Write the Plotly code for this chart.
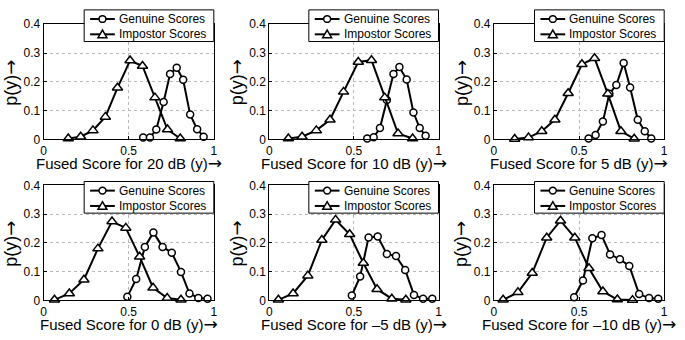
import plotly.graph_objects as go

snr_labels = ["20 dB", "10 dB", "5 dB", "0 dB", "–5 dB", "–10 dB"]
series_names = ["Genuine Scores", "Impostor Scores"]

imp_x_20 = [0.145, 0.218, 0.290, 0.363, 0.434, 0.508, 0.581, 0.654, 0.728, 0.803]
imp_y_20 = [0.003, 0.009, 0.031, 0.078, 0.179, 0.274, 0.255, 0.145, 0.034, 0.003]
gen_x_20 = [0.585, 0.625, 0.662, 0.705, 0.743, 0.782, 0.820, 0.861, 0.902, 0.940]
gen_y_20 = [0.006, 0.006, 0.034, 0.130, 0.227, 0.249, 0.207, 0.086, 0.035, 0.009]

imp_x_10 = [0.113, 0.194, 0.278, 0.359, 0.439, 0.526, 0.604, 0.682, 0.761, 0.847]
imp_y_10 = [0.003, 0.009, 0.031, 0.068, 0.165, 0.269, 0.275, 0.145, 0.020, 0.003]
gen_x_10 = [0.579, 0.617, 0.654, 0.695, 0.734, 0.769, 0.812, 0.852, 0.889, 0.924]
gen_y_10 = [0.003, 0.007, 0.039, 0.137, 0.227, 0.251, 0.208, 0.093, 0.039, 0.012]

imp_x_5 = [0.122, 0.203, 0.281, 0.358, 0.436, 0.517, 0.591, 0.669, 0.746, 0.824]
imp_y_5 = [0.001, 0.006, 0.028, 0.068, 0.160, 0.261, 0.282, 0.158, 0.028, 0.002]
gen_x_5 = [0.556, 0.597, 0.640, 0.678, 0.719, 0.762, 0.800, 0.845, 0.886, 0.924]
gen_y_5 = [0.003, 0.015, 0.062, 0.158, 0.189, 0.265, 0.180, 0.068, 0.028, 0.003]

imp_x_0 = [0.064, 0.151, 0.237, 0.319, 0.402, 0.483, 0.564, 0.643, 0.726, 0.807]
imp_y_0 = [0.002, 0.024, 0.072, 0.180, 0.274, 0.252, 0.152, 0.044, 0.008, 0.002]
gen_x_0 = [0.492, 0.544, 0.595, 0.645, 0.699, 0.753, 0.807, 0.857, 0.909, 0.963]
gen_y_0 = [0.013, 0.074, 0.186, 0.236, 0.186, 0.166, 0.099, 0.024, 0.008, 0.006]

imp_x_m5 = [0.054, 0.141, 0.228, 0.311, 0.392, 0.475, 0.556, 0.637, 0.724, 0.807]
imp_y_m5 = [0.002, 0.024, 0.086, 0.210, 0.280, 0.230, 0.130, 0.039, 0.006, 0.002]
gen_x_m5 = [0.488, 0.537, 0.587, 0.641, 0.695, 0.749, 0.803, 0.855, 0.909, 0.963]
gen_y_m5 = [0.017, 0.083, 0.219, 0.222, 0.161, 0.154, 0.106, 0.019, 0.006, 0.006]

imp_x_m10 = [0.054, 0.141, 0.225, 0.310, 0.391, 0.475, 0.558, 0.640, 0.725, 0.814]
imp_y_m10 = [0.002, 0.028, 0.095, 0.218, 0.277, 0.218, 0.112, 0.031, 0.003, 0.001]
gen_x_m10 = [0.471, 0.523, 0.578, 0.632, 0.682, 0.740, 0.795, 0.853, 0.911, 0.965]
gen_y_m10 = [0.011, 0.069, 0.216, 0.227, 0.160, 0.143, 0.120, 0.022, 0.008, 0.006]

x_ticks = [0, 0.5, 1]
x_tick_text = ["0", "0.5", "1"]
y_ticks = [0, 0.1, 0.2, 0.3, 0.4]
y_tick_text = ["0", "0.1", "0.2", "0.3", "0.4"]

panels = [
    (gen_x_20, gen_y_20, imp_x_20, imp_y_20),
    (gen_x_10, gen_y_10, imp_x_10, imp_y_10),
    (gen_x_5, gen_y_5, imp_x_5, imp_y_5),
    (gen_x_0, gen_y_0, imp_x_0, imp_y_0),
    (gen_x_m5, gen_y_m5, imp_x_m5, imp_y_m5),
    (gen_x_m10, gen_y_m10, imp_x_m10, imp_y_m10),
]

W, H = 685, 340
col_px = [(41, 213), (269, 440), (496, 668)]
row_px = [(18, 138), (186, 306)]
leg_top_px = [3, 182]
FONT = "Liberation Sans, Arial, Helvetica, sans-serif"
ARROW = '<span style="font-family:DejaVu Sans;font-size:17px">→</span>'
ARROW_Y = '<span style="font-family:DejaVu Sans;font-size:18px">→</span>'


def px(x):
    return x / W


def py(y):
    return 1 - y / H


fig = go.Figure()
layout = dict(
    width=W, height=H,
    margin=dict(l=0, r=0, t=0, b=0),
    paper_bgcolor="white", plot_bgcolor="white",
    font=dict(family=FONT, color="black"),
    showlegend=False,
)
annotations = []
shapes = []

for i, (gx, gy, ix, iy) in enumerate(panels):
    r, c = divmod(i, 3)
    n = "" if i == 0 else str(i + 1)
    x0, x1 = col_px[c]
    ytop, ybot = row_px[r]
    fig.add_trace(go.Scatter(
        x=gx, y=gy, mode="lines+markers", name=series_names[0],
        xaxis="x" + n, yaxis="y" + n, cliponaxis=False,
        line=dict(color="black", width=2),
        marker=dict(symbol="circle", size=7, color="white",
                    line=dict(color="black", width=1.5)),
    ))
    fig.add_trace(go.Scatter(
        x=ix, y=iy, mode="lines+markers", name=series_names[1],
        xaxis="x" + n, yaxis="y" + n, cliponaxis=False,
        line=dict(color="black", width=2),
        marker=dict(symbol="triangle-up", size=9, color="white",
                    line=dict(color="black", width=1.5)),
    ))
    common = dict(showline=True, linecolor="black", linewidth=1, mirror=True,
                  ticks="inside", ticklen=3, tickcolor="black",
                  showgrid=True, gridcolor="#b8b8b8", griddash="dot", gridwidth=1,
                  zeroline=False, tickfont=dict(size=12, family=FONT))
    layout["xaxis" + n] = dict(common, domain=[px(x0), px(x1)], range=[0, 1],
                               anchor="y" + n, tickvals=x_ticks, ticktext=x_tick_text)
    layout["yaxis" + n] = dict(common, domain=[py(ybot), py(ytop)], range=[0, 0.4],
                               anchor="x" + n, tickvals=y_ticks, ticktext=y_tick_text)

    # legend box (drawn manually to match the compact original legend)
    lt = leg_top_px[r]
    lx0, lx1 = x1 - 131, x1
    shapes.append(dict(type="rect", xref="paper", yref="paper", layer="above",
                       x0=px(lx0), x1=px(lx1), y0=py(lt + 33), y1=py(lt),
                       line=dict(color="black", width=1), fillcolor="white"))
    for k, name in enumerate(series_names):
        cy = lt + 9.5 + 16 * k
        shapes.append(dict(type="line", xref="paper", yref="paper", layer="above",
                           x0=px(lx0 + 6), x1=px(lx0 + 31), y0=py(cy), y1=py(cy),
                           line=dict(color="black", width=2)))
        mx = lx0 + 18.5
        if k == 0:
            shapes.append(dict(type="circle", xref="paper", yref="paper", layer="above",
                               x0=px(mx - 3.5), x1=px(mx + 3.5),
                               y0=py(cy + 3.5), y1=py(cy - 3.5),
                               line=dict(color="black", width=1.5), fillcolor="white"))
        else:
            path = "M {:.5f} {:.5f} L {:.5f} {:.5f} L {:.5f} {:.5f} Z".format(
                px(mx - 4.5), py(cy + 3.5), px(mx + 4.5), py(cy + 3.5),
                px(mx), py(cy - 4.5))
            shapes.append(dict(type="path", xref="paper", yref="paper", layer="above",
                               path=path, line=dict(color="black", width=1.5),
                               fillcolor="white"))
        annotations.append(dict(
            text=name, x=px(lx0 + 33), y=py(cy), xref="paper", yref="paper",
            xanchor="left", yanchor="middle", showarrow=False,
            font=dict(size=12, family=FONT),
        ))

    annotations.append(dict(
        text="Fused Score for " + snr_labels[i] + " (y)" + ARROW,
        x=px((x0 + x1) / 2), y=py(ybot + 25), xref="paper", yref="paper",
        xanchor="center", yanchor="middle", showarrow=False,
        font=dict(size=15, family=FONT),
    ))
    annotations.append(dict(
        text="p(y)" + ARROW_Y, textangle=-90,
        x=px(x0 - 33), y=py(ytop + 61), xref="paper", yref="paper",
        xanchor="center", yanchor="middle", showarrow=False,
        font=dict(size=18, family=FONT),
    ))

layout["annotations"] = annotations
layout["shapes"] = shapes
fig.update_layout(**layout)
fig.write_html("out.html", config={"displayModeBar": False},
               post_script="document.body.style.margin='0';document.body.style.overflow='hidden';")
